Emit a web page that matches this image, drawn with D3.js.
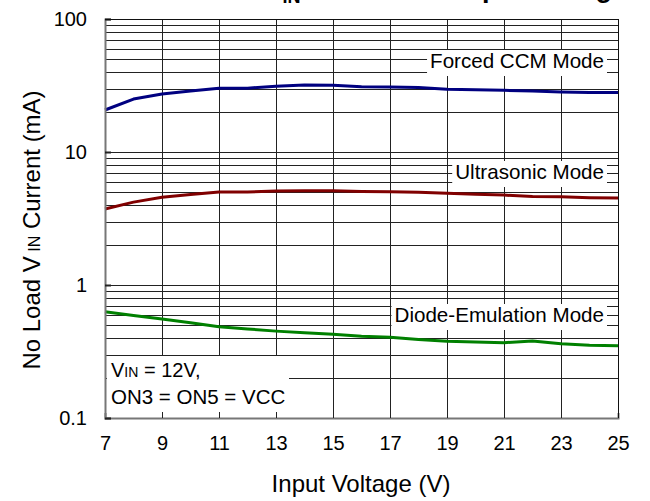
<!DOCTYPE html>
<html>
<head>
<meta charset="utf-8">
<script src="https://cdn.jsdelivr.net/npm/d3@7"></script>
<style>
  body { margin: 0; background: #fff; }
  svg { font-family: "Liberation Sans", Arial, sans-serif; }
</style>
</head>
<body>
<svg id="chart" width="650" height="501"></svg>
<script>
// input voltage (V)
var voltage = [7, 8, 9, 10, 11, 12, 13, 14, 15, 16, 17, 18, 19, 20, 21, 22, 23, 24, 25];

// no-load VIN current (mA)
var forcedCCM = [20.7, 25, 27.3, 28.7, 30.1, 30.2, 31.2, 31.9, 31.8, 30.9, 30.8, 30.5, 29.6, 29.4, 29.1, 28.7, 28.2, 28.0, 28.0];
var ultrasonic = [3.73, 4.2, 4.57, 4.8, 5.0, 5.0, 5.1, 5.12, 5.12, 5.05, 5.03, 4.98, 4.9, 4.82, 4.74, 4.62, 4.6, 4.53, 4.5];
var diodeEmulation = [0.63, 0.59, 0.555, 0.52, 0.486, 0.467, 0.45, 0.437, 0.426, 0.412, 0.404, 0.39, 0.377, 0.373, 0.368, 0.38, 0.362, 0.352, 0.35];

var series = [
    {name: "Forced CCM Mode", values: forcedCCM, color: "#000080"},
    {name: "Ultrasonic Mode", values: ultrasonic, color: "#800000"},
    {name: "Diode-Emulation Mode", values: diodeEmulation, color: "#008000"}
];

var xTicks = [7, 9, 11, 13, 15, 17, 19, 21, 23, 25];
var yTicks = [0.1, 1, 10, 100];

var svg = d3.select("#chart"),
    margin = {top: 19, right: 32, bottom: 83, left: 105},
    width = +svg.attr("width") - margin.left - margin.right,
    height = +svg.attr("height") - margin.top - margin.bottom,
    g = svg.append("g").attr("transform", "translate(" + margin.left + "," + margin.top + ")");

var x = d3.scaleLinear().domain([7, 25]).range([0, width]);
var y = d3.scaleLog().domain([0.1, 100]).range([height, 0]);

// minor log grid values
var gridY = [];
[0.1, 1, 10].forEach(function (dec) {
    for (var k = 1; k <= 9; k++) gridY.push(+(k * dec).toPrecision(3));
});
gridY.push(100);

g.append("g")
    .selectAll("line")
    .data(gridY.filter(function (d) { return d > 0.1; }))
    .join("line")
    .attr("x1", 0)
    .attr("x2", width)
    .attr("y1", function (d) { return Math.round(y(d)) + 0.5; })
    .attr("y2", function (d) { return Math.round(y(d)) + 0.5; })
    .attr("stroke", "#222")
    .attr("stroke-width", 1);

g.append("g")
    .selectAll("line")
    .data(xTicks.slice(1))
    .join("line")
    .attr("x1", function (d) { return Math.round(x(d)) + 0.5; })
    .attr("x2", function (d) { return Math.round(x(d)) + 0.5; })
    .attr("y1", 0)
    .attr("y2", height)
    .attr("stroke", "#222")
    .attr("stroke-width", 1);

// curves
var line = d3.line()
    .x(function (d, i) { return x(voltage[i]); })
    .y(function (d) { return y(d); });

g.append("g")
    .selectAll("path")
    .data(series)
    .join("path")
    .attr("fill", "none")
    .attr("stroke", function (d) { return d.color; })
    .attr("stroke-width", 3)
    .attr("stroke-linejoin", "round")
    .attr("d", function (d) { return line(d.values); });

// axes
g.append("g")
    .attr("transform", "translate(0," + height + ")")
    .call(d3.axisBottom(x).tickValues(xTicks).tickSize(-5).tickPadding(18).tickFormat(d3.format("d")))
    .call(function (a) { a.select(".domain").attr("stroke", "#777").attr("stroke-width", 2); })
    .call(function (a) { a.selectAll(".tick line").attr("stroke", "#222"); })
    .call(function (a) { a.selectAll(".tick text").attr("font-size", 20).attr("fill", "#000")
        .attr("font-family", "Liberation Sans, Arial, sans-serif"); });

g.append("g")
    .call(d3.axisLeft(y).tickValues(yTicks).tickSize(-6).tickPadding(18)
        .tickFormat(function (d) { return d < 1 ? "0.1" : d3.format("d")(d); }))
    .call(function (a) { a.select(".domain").attr("stroke", "#777").attr("stroke-width", 2); })
    .call(function (a) { a.selectAll(".tick line").attr("stroke", "#222").attr("stroke-width", 2); })
    .call(function (a) { a.selectAll(".tick text").attr("font-size", 20).attr("fill", "#000")
        .attr("font-family", "Liberation Sans, Arial, sans-serif"); });

// top and right frame
g.append("line").attr("x1", 0).attr("x2", width).attr("y1", 0.5).attr("y2", 0.5).attr("stroke", "#111");
g.append("line").attr("x1", width + 0.5).attr("x2", width + 0.5).attr("y1", 0).attr("y2", height).attr("stroke", "#111");

// series labels with white boxes, right aligned near the frame
var labelPos = [
    {name: "Forced CCM Mode", y: 68},
    {name: "Ultrasonic Mode", y: 179},
    {name: "Diode-Emulation Mode", y: 322}
];

labelPos.forEach(function (p) {
    var lg = svg.append("g");
    var rect = lg.append("rect").attr("fill", "#fff");
    var t = lg.append("text")
        .attr("x", 604)
        .attr("y", p.y)
        .attr("text-anchor", "end")
        .attr("font-size", 20.6)
        .attr("fill", "#000")
        .text(p.name);
    var bb = t.node().getBBox();
    rect.attr("x", bb.x - 3).attr("y", bb.y + 1).attr("width", bb.width + 6).attr("height", bb.height + 3);
});

// conditions box
var note = svg.append("g");
note.append("rect")
    .attr("x", 107)
    .attr("y", 356)
    .attr("width", 182)
    .attr("height", 56)
    .attr("fill", "#fff");
var n1 = note.append("text").attr("x", 111).attr("y", 377).attr("font-size", 20);
n1.append("tspan").text("V");
n1.append("tspan").attr("font-size", 14).text("IN");
n1.append("tspan").text(" = 12V,");
note.append("text").attr("x", 111).attr("y", 404).attr("font-size", 20.5)
    .text("ON3 = ON5 = VCC");

// axis titles
svg.append("text")
    .attr("x", 361)
    .attr("y", 492)
    .attr("text-anchor", "middle")
    .attr("font-size", 24)
    .text("Input Voltage (V)");

var yl = svg.append("text")
    .attr("transform", "translate(40,230) rotate(-90)")
    .attr("text-anchor", "middle")
    .attr("font-size", 24);
yl.append("tspan").text("No Load V");
yl.append("tspan").attr("font-size", 16).text(" IN");
yl.append("tspan").text(" Current (mA)");

// chart title: sits above the top edge, only its lowest strokes show
var title = svg.append("text")
    .attr("x", 388)
    .attr("y", -3)
    .attr("text-anchor", "middle")
    .attr("font-size", 27)
    .attr("font-weight", "bold");
title.append("tspan").text("No Load V");
title.append("tspan").attr("font-size", 18).attr("dy", 6).text("IN");
title.append("tspan").attr("dy", -6).text(" Current vs. Input Voltage");
</script>
</body>
</html>
